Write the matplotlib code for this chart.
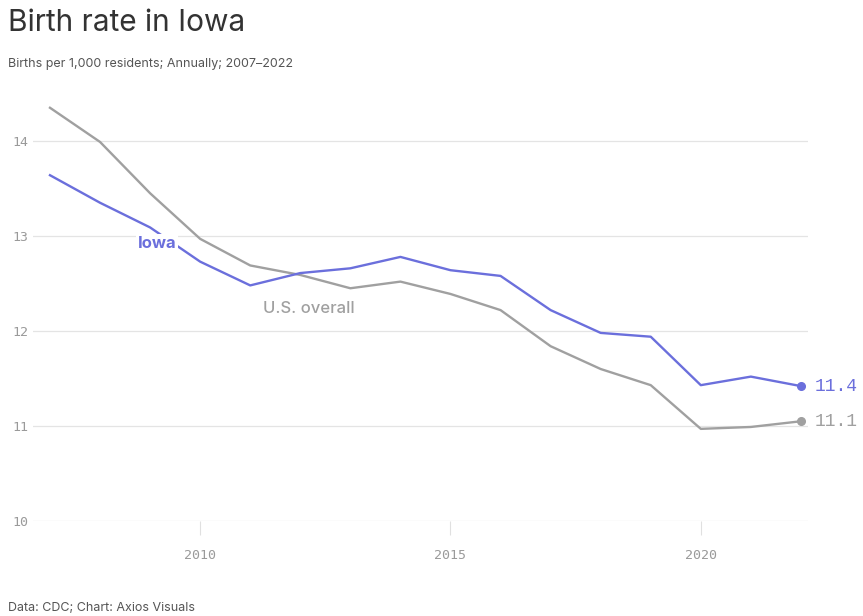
import matplotlib
matplotlib.use("Agg")
import matplotlib.pyplot as plt

years = list(range(2007, 2023))
iowa = [13.64, 13.35, 13.09, 12.73, 12.48, 12.61, 12.66, 12.78, 12.64, 12.58,
        12.22, 11.98, 11.94, 11.43, 11.52, 11.42]
us = [14.35, 13.99, 13.45, 12.97, 12.69, 12.59, 12.45, 12.52, 12.39, 12.22,
      11.84, 11.60, 11.43, 10.97, 10.99, 11.05]
x_ticks = [2010, 2015, 2020]
y_ticks = [10, 11, 12, 13, 14]
end_labels = ["11.4", "11.1"]

IOWA_C = "#6b6fdc"
US_C = "#a0a0a0"
TXT = "#333333"
TICK_C = "#9a9a9a"

fig = plt.figure(figsize=(8.63, 6.16), dpi=100)
ax = fig.add_axes([0.0382, 0.1542, 0.898, 0.694])

ax.set_xlim(2006.66, 2022.14)
ax.set_ylim(10, 14.5)

for y in y_ticks:
    ax.axhline(y, color="#e4e4e4", lw=0.9, zorder=0)

ax.plot(years, us, color=US_C, lw=1.7, zorder=2, solid_joinstyle="round")
ax.plot(years, iowa, color=IOWA_C, lw=1.7, zorder=3, solid_joinstyle="round")
ax.plot(years[-1], us[-1], "o", color=US_C, ms=5.5, zorder=4)
ax.plot(years[-1], iowa[-1], "o", color=IOWA_C, ms=5.5, zorder=4)

ax.text(years[-1] + 0.28, iowa[-1], end_labels[0], color=IOWA_C, fontsize=13,
        family="Liberation Mono", va="center", ha="left", clip_on=False)
ax.text(years[-1] + 0.28, us[-1], end_labels[1], color=US_C, fontsize=13,
        family="Liberation Mono", va="center", ha="left", clip_on=False)

ax.text(2009.14, 12.92, "Iowa", color=IOWA_C, fontsize=12, fontweight="bold",
        family="Inter", ha="center", va="center", zorder=5,
        bbox=dict(facecolor="white", edgecolor="none", pad=1.5))
ax.text(2012.17, 12.24, "U.S. overall", color=US_C, fontsize=12,
        fontweight="medium", family="Inter", ha="center", va="center", zorder=5)

for s in ax.spines.values():
    s.set_visible(False)
ax.set_yticks(y_ticks)
ax.set_yticklabels([str(v) for v in y_ticks], family="DejaVu Sans Mono",
                   fontsize=9.5, color=TICK_C)
ax.tick_params(axis="y", length=0, pad=3)
ax.set_xticks(x_ticks)
ax.set_xticklabels([str(v) for v in x_ticks], family="DejaVu Sans Mono",
                   fontsize=9.5, color=TICK_C)
ax.tick_params(axis="x", length=10, color="#e0e0e0", width=0.8, pad=10)

fig.text(0.0093, 0.962, "Birth rate in Iowa", fontsize=21.5, color=TXT,
         family="Inter", va="center", ha="left")
fig.text(0.0093, 0.896, "Births per 1,000 residents; Annually; 2007–2022",
         fontsize=9, color="#555555", family="Inter", va="center", ha="left")
fig.text(0.0093, 0.013, "Data: CDC; Chart: Axios Visuals", fontsize=9,
         color="#555555", family="Inter", va="center", ha="left")

fig.savefig("out.png", dpi=100, facecolor="white")
